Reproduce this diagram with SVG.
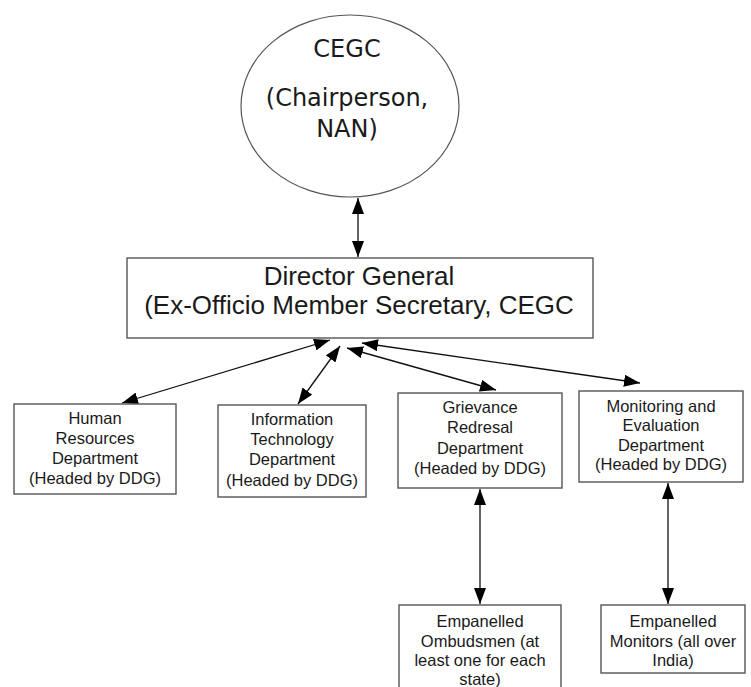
<svg xmlns="http://www.w3.org/2000/svg" width="751" height="687" viewBox="0 0 751 687">
<defs>
<style>
.box{fill:#fff;stroke:#555;stroke-width:1.4}
.t{font-family:"Liberation Sans",Arial,sans-serif;fill:#1a1a1a;text-anchor:middle}
.dep{font-size:16.5px}
.big{font-size:26px}
.el{font-family:"DejaVu Sans",sans-serif;font-size:24px;fill:#1a1a1a;text-anchor:middle}
.c{stroke:#111;stroke-width:1.3;fill:none;marker-start:url(#ah);marker-end:url(#ah)}
</style>
<marker id="ah" viewBox="0 0 16 12" refX="16" refY="6" markerWidth="16" markerHeight="12" markerUnits="userSpaceOnUse" orient="auto-start-reverse">
<path d="M0,0 L16,6 L0,12 z" fill="#000"/>
</marker>
</defs>
<rect width="751" height="687" fill="#fff"/>
<g id="connectors">
<line class="c" x1="358" y1="198" x2="358" y2="257"/>
<line class="c" x1="330" y1="340" x2="122" y2="403"/>
<line class="c" x1="340" y1="346" x2="298" y2="404"/>
<line class="c" x1="347" y1="348" x2="496" y2="390"/>
<line class="c" x1="362" y1="343" x2="640" y2="383"/>
<line class="c" x1="480" y1="489" x2="480" y2="604"/>
<line class="c" x1="668" y1="483" x2="668" y2="604"/>
</g>
<g id="cegc">
<ellipse cx="350" cy="106" rx="109" ry="91" fill="#fff" stroke="#555" stroke-width="1.2"/>
<text class="el" x="347" y="57">CEGC</text>
<text class="el" x="347" y="106">(Chairperson,</text>
<text class="el" x="347" y="137">NAN)</text>
</g>
<g id="dg">
<rect class="box" x="127" y="258" width="466" height="80"/>
<text class="t big" x="359" y="285">Director General</text>
<text class="t big" x="359" y="314">(Ex-Officio Member Secretary, CEGC</text>
</g>
<g id="hr">
<rect class="box" x="14" y="404" width="162" height="90"/>
<text class="t dep" x="95" y="424">Human</text>
<text class="t dep" x="95" y="444">Resources</text>
<text class="t dep" x="95" y="464">Department</text>
<text class="t dep" x="95" y="484">(Headed by DDG)</text>
</g>
<g id="it">
<rect class="box" x="218" y="405" width="148" height="92"/>
<text class="t dep" x="292" y="425">Information</text>
<text class="t dep" x="292" y="445">Technology</text>
<text class="t dep" x="292" y="465">Department</text>
<text class="t dep" x="292" y="486">(Headed by DDG)</text>
</g>
<g id="grievance">
<rect class="box" x="398" y="393" width="164" height="95"/>
<text class="t dep" x="480" y="413">Grievance</text>
<text class="t dep" x="480" y="433">Redresal</text>
<text class="t dep" x="480" y="454">Department</text>
<text class="t dep" x="480" y="474">(Headed by DDG)</text>
</g>
<g id="me">
<rect class="box" x="579" y="391" width="164" height="91"/>
<text class="t dep" x="661" y="412">Monitoring and</text>
<text class="t dep" x="661" y="431">Evaluation</text>
<text class="t dep" x="661" y="451">Department</text>
<text class="t dep" x="661" y="470">(Headed by DDG)</text>
</g>
<g id="ombudsmen">
<rect class="box" x="399" y="605" width="162" height="90"/>
<text class="t dep" x="480" y="627">Empanelled</text>
<text class="t dep" x="480" y="647">Ombudsmen (at</text>
<text class="t dep" x="480" y="666">least one for each</text>
<text class="t dep" x="480" y="685">state)</text>
</g>
<g id="monitors">
<rect class="box" x="601" y="605" width="144" height="68"/>
<text class="t dep" x="673" y="627">Empanelled</text>
<text class="t dep" x="673" y="647">Monitors (all over</text>
<text class="t dep" x="673" y="666">India)</text>
</g>
</svg>
